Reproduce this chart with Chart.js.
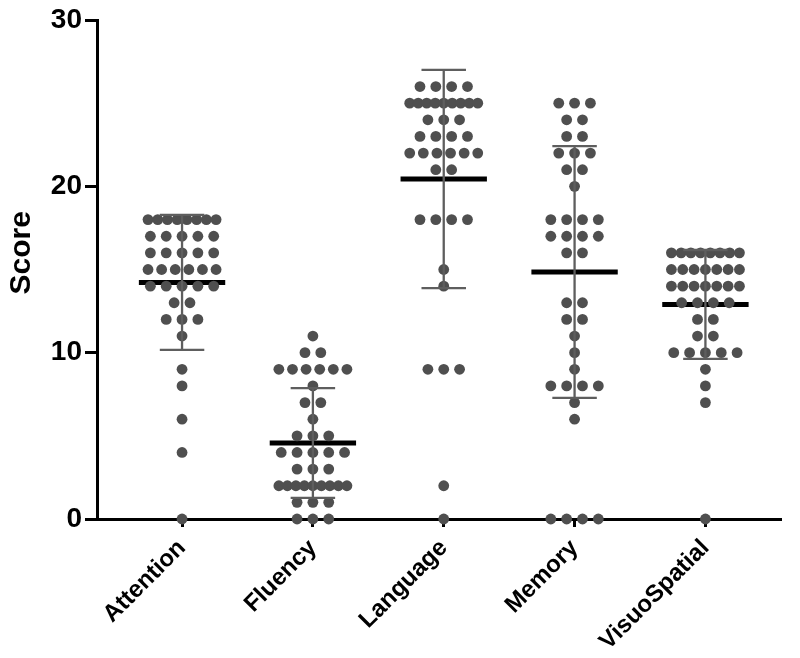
<!DOCTYPE html>
<html>

<head>
    <title>Score by domain</title>
    <style>
        html,
        body {
            margin: 0;
            padding: 0;
            background: #fff;
        }
    </style>
</head>

<body>
    <canvas id="scoreChart" width="800" height="658"></canvas>

    <script src="https://cdn.jsdelivr.net/npm/chart.js"></script>

    <script>
        // Values, one array per domain
        const categories = ['Attention', 'Fluency', 'Language', 'Memory', 'VisuoSpatial'];

        const attention = [18, 18, 18, 18, 18, 18, 18, 18, 17, 17, 17, 17, 17, 16, 16, 16, 16, 16,
            15, 15, 15, 15, 15, 15, 14, 14, 14, 14, 14, 13, 13, 12, 12, 12, 11, 9, 8, 6, 4, 0];
        const fluency = [11, 10, 10, 9, 9, 9, 9, 9, 9, 8, 7, 7, 6, 5, 5, 5, 4, 4, 4, 4, 4,
            3, 3, 3, 2, 2, 2, 2, 2, 2, 2, 2, 2, 1, 1, 1, 0, 0, 0];
        const language = [26, 26, 26, 26, 25, 25, 25, 25, 25, 25, 25, 25, 25, 24, 24, 24,
            23, 23, 23, 23, 22, 22, 22, 22, 22, 22, 21, 21, 18, 18, 18, 18, 15, 14, 9, 9, 9, 2, 0];
        const memory = [25, 25, 25, 24, 24, 23, 23, 22, 22, 22, 21, 21, 20, 18, 18, 18, 18,
            17, 17, 17, 17, 16, 16, 13, 13, 12, 12, 11, 10, 9, 8, 8, 8, 8, 7, 6, 0, 0, 0, 0];
        const visuoSpatial = [16, 16, 16, 16, 16, 16, 16, 16, 15, 15, 15, 15, 15, 15, 15,
            14, 14, 14, 14, 14, 14, 14, 13, 13, 13, 13, 12, 12, 11, 11, 10, 10, 10, 10, 10, 9, 8, 7, 0];

        const yTicks = [0, 10, 20, 30];
        const yTitle = 'Score';

        const groups = [attention, fluency, language, memory, visuoSpatial];

        // mean and SD of each group
        function mean(arr) {
            return arr.reduce((a, b) => a + b, 0) / arr.length;
        }
        function sd(arr) {
            const m = mean(arr);
            return Math.sqrt(arr.reduce((a, b) => a + (b - m) * (b - m), 0) / (arr.length - 1));
        }

        // lay the dots of each score side by side, centred on the category
        function swarm(arr, idx) {
            const counts = {};
            arr.forEach(v => counts[v] = (counts[v] || 0) + 1);
            const pts = [];
            Object.keys(counts).forEach(k => {
                const n = counts[k];
                const step = n > 1 ? Math.min(0.121, 0.52 / (n - 1)) : 0;
                for (let j = 0; j < n; j++) {
                    pts.push({ x: idx + (j - (n - 1) / 2) * step, y: Number(k) });
                }
            });
            return pts;
        }

        const dots = [];
        const meanLines = [];
        const errBars = [];
        groups.forEach((g, i) => {
            dots.push(...swarm(g, i));
            const m = mean(g);
            const s = sd(g);
            meanLines.push({ x: i - 0.33, y: m }, { x: i + 0.33, y: m }, { x: i + 0.5, y: null });
            errBars.push({ x: i, y: m - s }, { x: i, y: m + s }, { x: i, y: null });
            errBars.push({ x: i - 0.17, y: m + s }, { x: i + 0.17, y: m + s }, { x: i, y: null });
            errBars.push({ x: i - 0.17, y: m - s }, { x: i + 0.17, y: m - s }, { x: i, y: null });
        });

        const font = 'Liberation Sans, Arial, Helvetica, sans-serif';

        // y title sits a bit above the middle of the axis, as in the original
        const yTitlePlugin = {
            id: 'yTitle',
            afterDraw(chart) {
                const c = chart.ctx;
                const y = chart.scales.y.getPixelForValue(16);
                c.save();
                c.translate(22, y);
                c.rotate(-Math.PI / 2);
                c.font = 'bold 30px ' + font;
                c.fillStyle = '#000';
                c.textAlign = 'center';
                c.textBaseline = 'middle';
                c.fillText(yTitle, 0, 0);
                c.restore();
            }
        };

        const ctx = document.getElementById('scoreChart').getContext('2d');
        new Chart(ctx, {
            type: 'scatter',
            data: {
                datasets: [
                    {
                        type: 'line',
                        data: meanLines,
                        borderColor: '#000',
                        borderWidth: 5,
                        borderCapStyle: 'butt',
                        pointRadius: 0,
                        spanGaps: false,
                        clip: false,
                        order: 3
                    },
                    {
                        data: dots,
                        backgroundColor: '#4f4f4f',
                        borderWidth: 0,
                        pointRadius: 5.4,
                        pointHoverRadius: 5.4,
                        clip: false,
                        order: 2
                    },
                    {
                        type: 'line',
                        data: errBars,
                        borderColor: '#5e5e5e',
                        borderWidth: 2.3,
                        borderCapStyle: 'butt',
                        pointRadius: 0,
                        spanGaps: false,
                        clip: false,
                        order: 1
                    }
                ]
            },
            options: {
                responsive: false,
                animation: false,
                devicePixelRatio: 1,
                layout: { padding: { top: 20, right: 20, left: 0, bottom: 0 } },
                plugins: {
                    legend: { display: false },
                    tooltip: { enabled: false }
                },
                scales: {
                    x: {
                        type: 'linear',
                        min: -0.65,
                        max: 4.57,
                        afterBuildTicks: scale => {
                            scale.ticks = categories.map((c, i) => ({ value: i }));
                        },
                        afterFit: scale => { scale.height = 139; },
                        border: { display: true, color: '#000', width: 3 },
                        grid: {
                            display: true,
                            drawOnChartArea: false,
                            drawTicks: true,
                            tickLength: 8,
                            color: '#000',
                            lineWidth: 3
                        },
                        ticks: {
                            autoSkip: false,
                            minRotation: 45,
                            maxRotation: 45,
                            padding: 7,
                            color: '#000',
                            font: { family: font, size: 24, weight: 'bold' },
                            callback: v => categories[v]
                        }
                    },
                    y: {
                        min: 0,
                        max: 30,
                        afterBuildTicks: scale => {
                            scale.ticks = yTicks.map(v => ({ value: v }));
                        },
                        afterFit: scale => { scale.width = 97; },
                        border: { display: true, color: '#000', width: 3 },
                        grid: {
                            display: true,
                            drawOnChartArea: false,
                            drawTicks: true,
                            tickLength: 12,
                            color: '#000',
                            lineWidth: 3
                        },
                        ticks: {
                            padding: 3,
                            color: '#000',
                            font: { family: font, size: 28, weight: 'bold' }
                        }
                    }
                }
            },
            plugins: [yTitlePlugin]
        });
    </script>
</body>

</html>
